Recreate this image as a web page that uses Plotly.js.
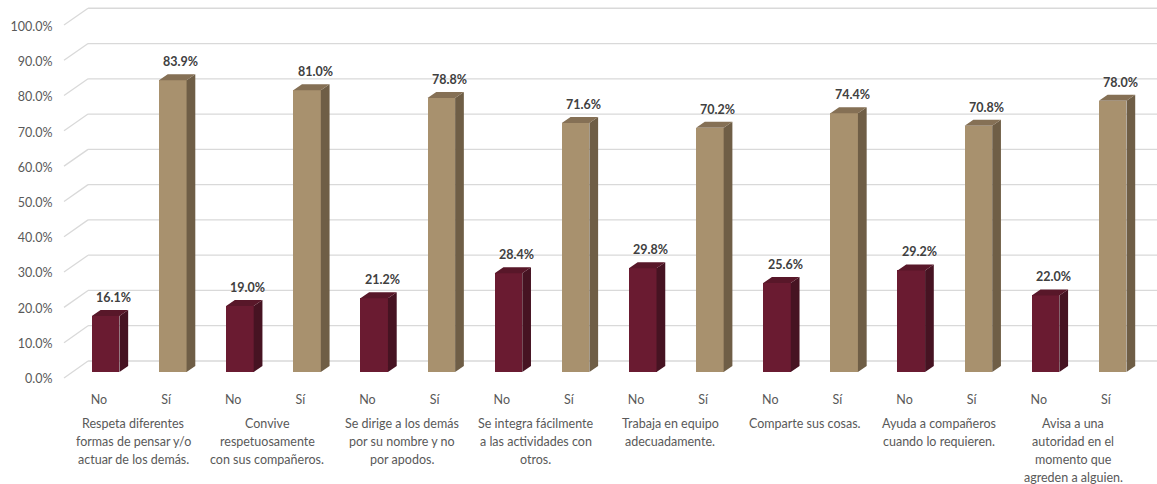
<!DOCTYPE html>
<html>
<head>
<meta charset="utf-8">
<script src="https://cdn.plot.ly/plotly-3.0.1.min.js"></script>
<style>html,body{margin:0;padding:0;background:#fff;}#chart{width:1157px;height:484px;}</style>
</head>
<body>
<div id="chart"></div>
<script>
// ---- data ----
const groupLabels = [
  "Respeta diferentes\nformas de pensar y/o\nactuar de los demás.",
  "Convive\nrespetuosamente\ncon sus compañeros.",
  "Se dirige a los demás\npor su nombre y no\npor apodos.",
  "Se integra fácilmente\na las actividades con\notros.",
  "Trabaja en equipo\nadecuadamente.",
  "Comparte sus cosas.",
  "Ayuda a compañeros\ncuando lo requieren.",
  "Avisa a una\nautoridad en el\nmomento que\nagreden a alguien."
];
const seriesNames = ["No", "Sí"];
const valuesNo = [16.1, 19.0, 21.2, 28.4, 29.8, 25.6, 29.2, 22.0];
const valuesSi = [83.9, 81.0, 78.8, 71.6, 70.2, 74.4, 70.8, 78.0];
const yTicks = [0, 10, 20, 30, 40, 50, 60, 70, 80, 90, 100];

// ---- styling / geometry ----
const FONT = "Lato, 'Open Sans', sans-serif";
const W = 0.411, DX = 0.13, DY = 1.725;
const colNo = {front: "#6A1B31", side: "#461322", top: "#581729"};
const colSi = {front: "#A8916E", side: "#6F5E46", top: "#857055"};

const xNo = valuesNo.map((_, g) => 2 * g);
const xSi = valuesSi.map((_, g) => 2 * g + 1);

function faces(xs, vs) {
  const side = {x: [], y: []}, top = {x: [], y: []};
  xs.forEach((x, i) => {
    const v = vs[i], r = x + W / 2, l = x - W / 2;
    side.x.push(r, r + DX, r + DX, r, r, null);
    side.y.push(0, DY, v + DY, v, 0, null);
    top.x.push(l, r, r + DX, l + DX, l, null);
    top.y.push(v, v, v + DY, v + DY, v, null);
  });
  return {side, top};
}

const traces = [];
[[xNo, valuesNo, colNo, seriesNames[0]], [xSi, valuesSi, colSi, seriesNames[1]]].forEach(([xs, vs, c, name]) => {
  traces.push({type: "bar", x: xs, y: vs, width: W, name: name,
    marker: {color: c.front, line: {width: 0}}, hoverinfo: "y", showlegend: false});
  const f = faces(xs, vs);
  traces.push({type: "scatter", mode: "lines", x: f.side.x, y: f.side.y, fill: "toself",
    fillcolor: c.side, line: {width: 0, color: c.side}, hoverinfo: "skip", showlegend: false});
  traces.push({type: "scatter", mode: "lines", x: f.top.x, y: f.top.y, fill: "toself",
    fillcolor: c.top, line: {width: 0, color: c.top}, hoverinfo: "skip", showlegend: false});
});

// back-wall gridlines + left diagonals
const backY = v => 3.163 + 1.014 * v;
const frontY = v => -1.725 + 1.015 * v;
const labelY = v => -1.93 + 1.012 * v;
const shapes = [];
yTicks.forEach(v => {
  shapes.push({type: "line", xref: "x", yref: "y", layer: "below",
    x0: -0.262, x1: 15.7, y0: backY(v), y1: backY(v), line: {color: "#D9D9D9", width: 1.3}});
  shapes.push({type: "line", xref: "x", yref: "y", layer: "below",
    x0: -0.62, x1: -0.262, y0: frontY(v), y1: backY(v), line: {color: "#D9D9D9", width: 1.3}});
});

const annotations = [];
// data labels
[[xNo, valuesNo], [xSi, valuesSi]].forEach(([xs, vs]) => {
  xs.forEach((x, i) => {
    annotations.push({x: x + 0.12, y: vs[i], xref: "x", yref: "y", text: vs[i].toFixed(1) + "%",
      showarrow: false, yanchor: "bottom", yshift: 9,
      font: {family: FONT, size: 12.5, color: "#404040", weight: "bold"}});
  });
});
// group labels
groupLabels.forEach((lab, g) => {
  lab.split("\n").forEach((line, k) => {
    annotations.push({x: 2 * g + 0.5 - 0.09, y: 0, xref: "x", yref: "paper", text: line,
      showarrow: false, yanchor: "middle", xanchor: "center", yshift: -43 - 18 * k,
      font: {family: FONT, size: 12.5, color: "#595959"}});
  });
});

const catVals = [], catText = [];
xNo.forEach((x, i) => { catVals.push(x - 0.1, xSi[i] - 0.1); catText.push(seriesNames[0], seriesNames[1]); });

const layout = {
  width: 1157, height: 484,
  margin: {l: 62, r: 0, t: 5, b: 104},
  paper_bgcolor: "#fff", plot_bgcolor: "rgba(0,0,0,0)",
  showlegend: false,
  xaxis: {range: [-0.65, 15.66], showgrid: false, zeroline: false, showline: false,
    tickmode: "array", tickvals: catVals, ticktext: catText,
    ticks: "outside", ticklen: 8, tickcolor: "rgba(0,0,0,0)",
    tickfont: {family: FONT, size: 12.5, color: "#595959"}, fixedrange: true},
  yaxis: {range: [-2.3, 105.5], showgrid: false, zeroline: false, showline: false,
    tickmode: "array", tickvals: yTicks.map(labelY), ticktext: yTicks.map(v => v.toFixed(1) + "%"),
    ticks: "outside", ticklen: 6, tickcolor: "rgba(0,0,0,0)",
    tickfont: {family: FONT, size: 12.5, color: "#595959"}, fixedrange: true},
  shapes: shapes,
  annotations: annotations,
  bargap: 0
};

Plotly.newPlot("chart", traces, layout, {displayModeBar: false, staticPlot: true});
</script>
</body>
</html>
